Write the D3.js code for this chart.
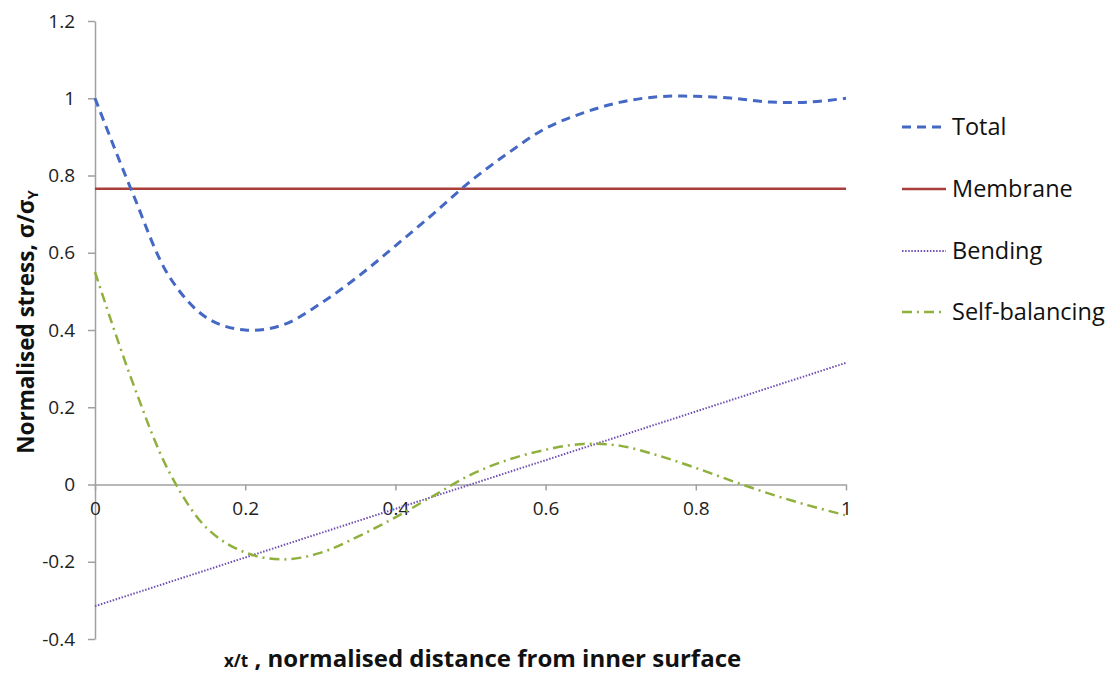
<!DOCTYPE html>
<html>
<head>
<meta charset="utf-8">
<script src="https://d3js.org/d3.v7.min.js"></script>
<style>
  body { margin: 0; background: #fff; }
  svg { display: block; }
</style>
</head>
<body>
<div id="chart"></div>
<script>

// x/t positions (shared by curves)
var xs = [0, 0.05, 0.1, 0.15, 0.2, 0.25, 0.3, 0.35, 0.4, 0.45, 0.5, 0.55, 0.6, 0.65, 0.7, 0.75, 0.8, 0.85, 0.9, 0.95, 1];

// series values
var total = [1.0, 0.755, 0.535, 0.43, 0.40, 0.413, 0.468, 0.538, 0.618, 0.70, 0.785, 0.858, 0.922, 0.962, 0.99, 1.004, 1.005, 1.0, 0.99, 0.99, 1.0];
var selfBal = [0.55, 0.265, 0.028, -0.115, -0.176, -0.194, -0.177, -0.135, -0.085, -0.03, 0.025, 0.064, 0.09, 0.105, 0.10, 0.075, 0.043, 0.008, -0.025, -0.054, -0.08];
var membraneX = [0, 1];
var membrane = [0.766, 0.766];
var bendingX = [0, 1];
var bending = [-0.315, 0.315];

var xTicks = [0, 0.2, 0.4, 0.6, 0.8, 1];
var xTickLabels = ["0", "0.2", "0.4", "0.6", "0.8", "1"];
var yTicks = [-0.4, -0.2, 0, 0.2, 0.4, 0.6, 0.8, 1, 1.2];
var yTickLabels = ["-0.4", "-0.2", "0", "0.2", "0.4", "0.6", "0.8", "1", "1.2"];

var legendNames = ["Total", "Membrane", "Bending", "Self-balancing"];

var W = 1114, H = 673;
var font = "'Open Sans', 'DejaVu Sans', sans-serif";

var svg = d3.select("#chart")
  .append("svg")
    .attr("width", W)
    .attr("height", H);

var x = d3.scaleLinear().domain([0, 1]).range([95, 846]);
var y = d3.scaleLinear().domain([-0.4, 1.2]).range([639, 21]);

var axisColor = "#a0a0a0";

// Y axis
var axY = svg.append("g")
  .attr("transform", "translate(" + x(0) + ",0)")
  .call(d3.axisLeft(y)
    .tickValues(yTicks)
    .tickSize(7)
    .tickSizeOuter(0)
    .tickFormat(function(d, i) { return yTickLabels[i]; }));
axY.select(".domain").attr("stroke", axisColor).attr("stroke-width", 1.5);
axY.selectAll(".tick line").attr("stroke", axisColor).attr("stroke-width", 1.5);
axY.selectAll(".tick text")
  .attr("x", -20)
  .attr("font-size", 19)
  .attr("font-family", font)
  .attr("fill", "#222");

// X axis at y = 0
var axX = svg.append("g")
  .attr("transform", "translate(0," + y(0) + ")")
  .call(d3.axisBottom(x)
    .tickValues(xTicks)
    .tickSize(6)
    .tickSizeOuter(0)
    .tickFormat(function(d, i) { return xTickLabels[i]; }));
axX.select(".domain").attr("stroke", axisColor).attr("stroke-width", 1.5);
axX.selectAll(".tick line").attr("stroke", axisColor).attr("stroke-width", 1.5);
axX.selectAll(".tick text")
  .attr("y", 30)
  .attr("dy", 0)
  .attr("font-size", 19)
  .attr("font-family", font)
  .attr("fill", "#222");

// series styles
var styles = [
  {color: "#4468c4", width: 3, dash: "9,6"},
  {color: "#a83e3a", width: 2.5, dash: null},
  {color: "#7050b4", width: 2, dash: "1.5,1.6"},
  {color: "#8fb03c", width: 2.5, dash: "10,5,2,5"}
];

function pts(xv, yv) {
  return xv.map(function(d, i) { return [d, yv[i]]; });
}
var series = [pts(xs, total), pts(membraneX, membrane), pts(bendingX, bending), pts(xs, selfBal)];

var line = d3.line()
  .x(function(d) { return x(d[0]); })
  .y(function(d) { return y(d[1]); })
  .curve(d3.curveCatmullRom.alpha(0.5));

// draw order: bending, self-balancing, membrane, total
[2, 3, 1, 0].forEach(function(k) {
  svg.append("path")
    .datum(series[k])
    .attr("fill", "none")
    .attr("stroke", styles[k].color)
    .attr("stroke-width", styles[k].width)
    .attr("stroke-dasharray", styles[k].dash)
    .attr("d", line);
});

// legend
var legY = [127, 189, 251, 312];
legendNames.forEach(function(name, i) {
  svg.append("line")
    .attr("x1", 902).attr("x2", 946)
    .attr("y1", legY[i]).attr("y2", legY[i])
    .attr("stroke", styles[i].color)
    .attr("stroke-width", styles[i].width)
    .attr("stroke-dasharray", styles[i].dash);
  svg.append("text")
    .attr("x", 952)
    .attr("y", legY[i] + 8)
    .attr("font-size", 23.5)
    .attr("font-family", font)
    .attr("fill", "#111")
    .text(name);
});

// y axis title
var yt = svg.append("text")
  .attr("transform", "translate(34,322) rotate(-90)")
  .attr("text-anchor", "middle")
  .attr("font-size", 22.5)
  .attr("font-weight", "bold")
  .attr("font-family", font)
  .attr("fill", "#111");
yt.append("tspan").text("Normalised stress, σ/σ");
yt.append("tspan").attr("font-size", 15).attr("dy", 4).text("Y");

// x axis title
var xt = svg.append("text")
  .attr("x", 224)
  .attr("y", 667)
  .attr("font-weight", "bold")
  .attr("font-family", font)
  .attr("fill", "#111");
xt.append("tspan").attr("font-size", 17).text("x/t");
xt.append("tspan").attr("font-size", 24).text("  , normalised distance from inner surface");

</script>
</body>
</html>
